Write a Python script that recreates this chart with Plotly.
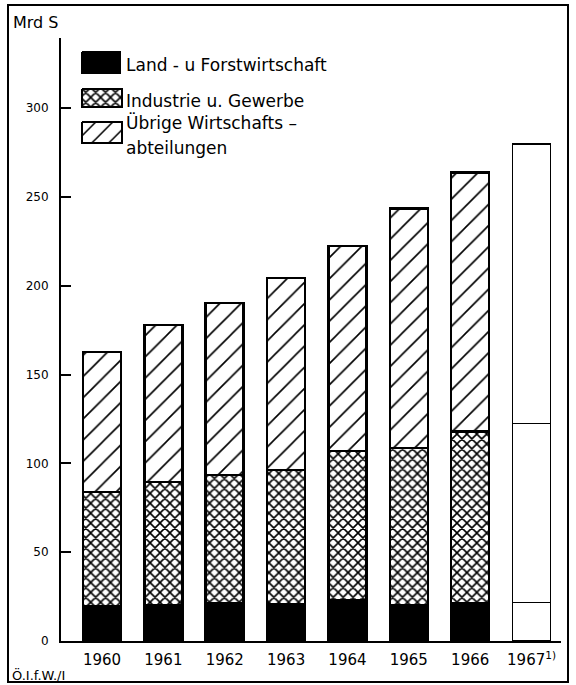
import plotly.graph_objects as go

years = ["1960", "1961", "1962", "1963", "1964", "1965", "1966", "1967<sup>1)</sup>"]
land = [19.3, 19.9, 21.4, 20.8, 23.0, 20.3, 21.4, 21.6]
industrie = [64.7, 69.6, 72.1, 75.5, 84.0, 88.5, 96.5, 101.0]
uebrige = [78.7, 88.5, 96.8, 108.1, 115.4, 134.8, 145.8, 157.1]
y_ticks = [0, 50, 100, 150, 200, 250, 300]
legend_labels = ["Land - u Forstwirtschaft", "Industrie u. Gewerbe", "Übrige Wirtschafts –", "abteilungen"]

FONT = "DejaVu Sans"
n = len(years)
xs = list(range(n))
last = n - 1

def shapes_for(shape):
    return [shape if i < last else "" for i in range(n)]

line_w = [2.5 if i < last else 1.5 for i in range(n)]

fig = go.Figure()
fig.add_trace(go.Bar(
    x=xs, y=land, width=0.62,
    marker=dict(color=["black" if i < last else "white" for i in range(n)],
                line=dict(color="black", width=line_w)),
    showlegend=False, name="Land- u. Forstwirtschaft"))
fig.add_trace(go.Bar(
    x=xs, y=industrie, width=0.62,
    marker=dict(color="white", line=dict(color="black", width=line_w),
                pattern=dict(shape=shapes_for("x"), fgcolor="black", bgcolor="white",
                             fgopacity=1, size=7, solidity=0.4)),
    showlegend=False, name="Industrie u. Gewerbe"))
fig.add_trace(go.Bar(
    x=xs, y=uebrige, width=0.62,
    marker=dict(color="white", line=dict(color="black", width=line_w),
                pattern=dict(shape=shapes_for("/"), fgcolor="black", bgcolor="white",
                             fgopacity=1, size=15, solidity=0.11)),
    showlegend=False, name="Übrige Wirtschaftsabteilungen"))

# legend swatches on a pixel-like overlay axis
sw = [(82, 120, 52, 73, None), (82, 122, 89, 107, "x"), (82, 122, 122, 143, "/")]
for i, (x0, x1, y0, y1, pat) in enumerate(sw):
    kw = {}
    if pat is None:
        kw["fillcolor"] = "black"
    else:
        kw["fillcolor"] = "white"
        kw["fillpattern"] = dict(shape=pat, fgcolor="black", bgcolor="white", fgopacity=1,
                                 size=7 if pat == "x" else 12,
                                 solidity=0.4 if pat == "x" else 0.13)
    fig.add_trace(go.Scatter(
        x=[x0, x1, x1, x0, x0], y=[y0, y0, y1, y1, y0], mode="lines",
        fill="toself", line=dict(color="black", width=2),
        xaxis="x2", yaxis="y2", showlegend=False, hoverinfo="skip", **kw))

leg_pos = [(124, 65), (124, 101), (124, 122), (124, 148)]
annotations = []
for (lx, ly), txt in zip(leg_pos, legend_labels):
    annotations.append(dict(x=lx, y=ly, xref="x2", yref="y2", text=txt, showarrow=False,
                            xanchor="left", yanchor="middle",
                            font=dict(family=FONT, size=17, color="black")))

annotations.append(dict(x=-0.1, y=1.0265, xref="paper", yref="paper", text="Mrd S",
                        showarrow=False, xanchor="left", yanchor="middle",
                        font=dict(family=FONT, size=16, color="black")))
annotations.append(dict(x=-0.102, y=-0.0564, xref="paper", yref="paper", text="Ö.I.f.W./I",
                        showarrow=False, xanchor="left", yanchor="middle",
                        font=dict(family=FONT, size=13, color="black")))

fig.update_layout(
    width=576, height=685,
    margin=dict(l=61, r=15, t=38, b=44),
    paper_bgcolor="white", plot_bgcolor="white",
    barmode="stack",
    showlegend=False,
    xaxis=dict(range=[-0.668, 7.48], tickvals=xs, ticktext=years, showgrid=False,
               zeroline=False, showline=True, linecolor="black", linewidth=2, ticks="",
               tickfont=dict(family=FONT, size=15, color="black"), ticklabelstandoff=4),
    yaxis=dict(range=[0, 339.5], tickvals=y_ticks, showgrid=False, zeroline=False,
               showline=True, linecolor="black", linewidth=2, ticks="inside",
               ticklen=10, tickwidth=1.5, tickcolor="black",
               tickfont=dict(family=FONT, size=12, color="black"), ticklabelstandoff=8),
    xaxis2=dict(overlaying="x", range=[61, 561], visible=False, fixedrange=True),
    yaxis2=dict(overlaying="y", range=[641, 38], visible=False, fixedrange=True),
    annotations=annotations,
    shapes=[dict(type="rect", xref="paper", yref="paper", x0=-0.106, x1=1.014,
                 y0=-0.068, y1=1.0547, line=dict(color="black", width=2))],
)

fig.write_html("out.html", config={"displayModeBar": False},
               post_script="document.body.style.margin='0px';document.body.style.overflow='hidden';")
